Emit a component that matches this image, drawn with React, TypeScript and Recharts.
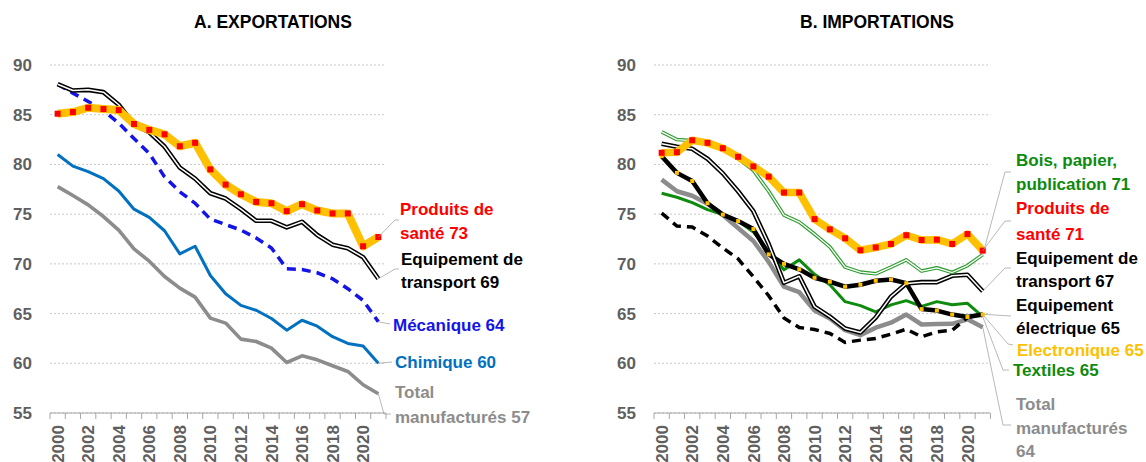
import React from 'react';
import { LineChart, Line, XAxis, YAxis, CartesianGrid } from 'recharts';

// ---------- DATA ----------
const years = [2000, 2001, 2002, 2003, 2004, 2005, 2006, 2007, 2008, 2009, 2010, 2011, 2012, 2013, 2014, 2015, 2016, 2017, 2018, 2019, 2020, 2021];
const yTicks = [55, 60, 65, 70, 75, 80, 85, 90];

// A. Exportations
const expSante = [85.1, 85.27, 85.7, 85.57, 85.47, 84.07, 83.47, 83.03, 81.83, 82.17, 79.5, 77.97, 77.0, 76.23, 76.1, 75.3, 76.0, 75.37, 75.07, 75.07, 71.77, 72.7];
const expTransport = [88.07, 87.43, 87.5, 87.27, 86.0, 84.0, 83.23, 81.8, 79.67, 78.57, 77.1, 76.57, 75.5, 74.33, 74.33, 73.67, 74.23, 72.9, 71.93, 71.57, 70.67, 68.5];
const expMecanique = [88.07, 87.17, 86.33, 85.4, 84.17, 82.6, 81.1, 78.75, 77.25, 76.1, 74.5, 73.95, 73.4, 72.6, 71.6, 69.5, 69.43, 69.1, 68.5, 67.5, 66.33, 64.17];
const expChimique = [81.0, 79.83, 79.27, 78.57, 77.33, 75.5, 74.67, 73.33, 71.0, 71.77, 68.83, 67.0, 65.83, 65.33, 64.5, 63.33, 64.33, 63.73, 62.67, 62.0, 61.73, 60.0];
const expTotal = [77.77, 76.87, 75.93, 74.76, 73.4, 71.5, 70.27, 68.73, 67.56, 66.65, 64.54, 64.04, 62.43, 62.19, 61.52, 60.08, 60.75, 60.35, 59.75, 59.18, 57.84, 56.93];

// B. Importations
const impBois = [83.27, 82.5, 82.4, 82.0, 81.5, 80.6, 79.4, 77.3, 74.9, 74.2, 73.0, 71.7, 69.67, 69.17, 69.0, 69.67, 70.4, 69.27, 69.6, 69.13, 69.83, 70.93];
const impSante = [81.17, 81.23, 82.43, 82.17, 81.63, 80.77, 79.8, 78.77, 77.17, 77.17, 74.5, 73.47, 72.57, 71.37, 71.65, 72.0, 72.88, 72.4, 72.43, 72.0, 73.0, 71.33];
const impTransport = [82.07, 81.77, 81.57, 80.57, 79.1, 77.3, 75.3, 72.0, 68.1, 68.75, 65.7, 64.7, 63.5, 63.1, 64.6, 66.7, 68.03, 68.16, 68.16, 68.8, 68.9, 67.25];
const impElecEquip = [75.1, 73.8, 73.7, 72.8, 71.6, 70.5, 68.7, 66.8, 64.55, 63.6, 63.4, 63.0, 62.1, 62.33, 62.5, 62.93, 63.43, 62.67, 63.17, 63.33, 64.6, 64.93];
const impElectronique = [80.83, 79.15, 78.33, 76.1, 74.95, 74.3, 73.5, 70.95, 70.0, 69.45, 68.6, 68.2, 67.7, 67.9, 68.3, 68.43, 68.06, 65.45, 65.3, 64.9, 64.66, 64.9];
const impTextiles = [77.1, 76.7, 76.15, 75.45, 74.95, 74.3, 73.2, 71.3, 69.4, 70.4, 68.95, 67.9, 66.2, 65.8, 65.17, 65.87, 66.3, 65.73, 66.2, 65.88, 66.03, 64.7];
const impTotal = [78.47, 77.3, 76.85, 76.05, 74.9, 73.6, 72.3, 70.2, 67.7, 67.15, 65.3, 64.5, 63.33, 62.83, 63.58, 64.08, 64.9, 63.9, 63.95, 63.97, 64.42, 63.63];

// Texts
const titleA = 'A. EXPORTATIONS';
const titleB = 'B. IMPORTATIONS';
const labExpSante = ['Produits de', 'santé 73'];
const labExpTransport = ['Equipement de', 'transport 69'];
const labExpMeca = ['Mécanique 64'];
const labExpChim = ['Chimique 60'];
const labExpTotal = ['Total', 'manufacturés 57'];
const labImpBois = ['Bois, papier,', 'publication 71'];
const labImpSante = ['Produits de', 'santé 71'];
const labImpTransport = ['Equipement de', 'transport 67'];
const labImpElec = ['Equipement', 'électrique 65'];
const labImpElectronique = ['Electronique 65'];
const labImpTextiles = ['Textiles 65'];
const labImpTotal = ['Total', 'manufacturés', '64'];

// ---------- STYLE ----------
const FONT = "'Liberation Sans', Arial, Helvetica, sans-serif";
const AXIS_GREY = '#a6a6a6';
const TICK_GREY = '#5f5f5f';
const ORANGE = '#FFC000';
const RED = '#FF0000';
const BLUE = '#1414E6';
const CHIM = '#0070C0';
const GREY = '#8c8c8c';
const GREEN = '#0E8A0E';
const GREEN2 = '#2E9B2E';

const expRows = years.map((y, i) => ({
  year: y,
  sante: expSante[i],
  transport: expTransport[i],
  meca: expMecanique[i],
  chim: expChimique[i],
  total: expTotal[i],
}));
const impRows = years.map((y, i) => ({
  year: y,
  bois: impBois[i],
  sante: impSante[i],
  transport: impTransport[i],
  elec: impElecEquip[i],
  electronique: impElectronique[i],
  textiles: impTextiles[i],
  total: impTotal[i],
}));

const lastIndex = years.length - 1;
const xTicks = [
  ...years.map((y) => y - 0.5),
  years[lastIndex] + 0.5,
  ...years.filter((y) => y % 2 === 0),
].sort((a, b) => a - b);

type LabelSpec = {
  lines: string[];
  color: string;
  tx: number;
  ty: number[];
  leader: number[][];
};

const YearTick = (props: any) => {
  const { x, y, payload } = props;
  const v = payload.value;
  if (Number.isInteger(v)) {
    if (v % 2 !== 0) return <g />;
    const ay = y + 12;
    return (
      <text
        x={x}
        y={ay}
        transform={`rotate(-90, ${x}, ${ay})`}
        textAnchor="end"
        dy="0.36em"
        fill={TICK_GREY}
        fontSize={17}
        fontWeight="bold"
        fontFamily={FONT}
      >
        {v}
      </text>
    );
  }
  return <line x1={x} y1={y} x2={x} y2={y + 6} stroke={AXIS_GREY} strokeWidth={1} />;
};

const makeDot = (marker: { size: number; fill: string } | null, label: LabelSpec | null) =>
  (props: any) => {
    const { cx, cy, index } = props;
    const parts: any[] = [];
    if (marker && cx != null && cy != null) {
      parts.push(
        <rect key="m" x={cx - marker.size / 2} y={cy - marker.size / 2} width={marker.size} height={marker.size} fill={marker.fill} />
      );
    }
    if (label && index === lastIndex && cx != null) {
      const pts = [[cx, cy], ...label.leader].map((p) => p.join(',')).join(' ');
      parts.push(
        <polyline key="l" points={pts} fill="none" stroke={AXIS_GREY} strokeWidth={0.8} />
      );
      label.lines.forEach((t, i) => {
        parts.push(
          <text
            key={`t${i}`}
            x={label.tx}
            y={label.ty[i]}
            dy="0.35em"
            fill={label.color}
            fontSize={17}
            fontWeight="bold"
            fontFamily={FONT}
          >
            {t}
          </text>
        );
      });
    }
    return <g key={`dot-${index}`}>{parts}</g>;
  };

const CHART_W = 573;
const CHART_H = 462;

const commonAxes = (id: string) => [
  <CartesianGrid key={`g${id}`} vertical={false} stroke="#c8c8c8" strokeDasharray="2 2" />,
  <XAxis
    key={`x${id}`}
    dataKey="year"
    type="number"
    domain={[years[0] - 0.5, years[lastIndex] + 0.5]}
    ticks={xTicks}
    interval={0}
    tickSize={0}
    tickMargin={0}
    height={49}
    axisLine={{ stroke: AXIS_GREY, strokeWidth: 1 }}
    tickLine={false}
    tick={<YearTick />}
  />,
  <YAxis
    key={`y${id}`}
    type="number"
    domain={[55, 90]}
    ticks={yTicks}
    interval={0}
    width={50}
    axisLine={false}
    tickLine={false}
    tickSize={0}
    tickMargin={18}
    tick={{ fill: TICK_GREY, fontSize: 17, fontWeight: 'bold', fontFamily: FONT }}
  />,
];

const noDot = (label: LabelSpec | null) => makeDot(null, label);

export default function App() {
  const titleStyle = (cx: number): React.CSSProperties => ({
    position: 'absolute',
    left: cx - 150,
    top: 11,
    width: 300,
    height: 22,
    lineHeight: '22px',
    textAlign: 'center',
    fontFamily: FONT,
    fontWeight: 'bold',
    fontSize: 17.5,
    color: '#000',
  });

  // label layouts (chart-local coordinates)
  const eSante: LabelSpec = { lines: labExpSante, color: RED, tx: 400, ty: [209, 233], leader: [[395, 220], [399, 220]] };
  const eTrans: LabelSpec = { lines: labExpTransport, color: '#000', tx: 401, ty: [259, 282], leader: [[395, 269], [399, 269]] };
  const eMeca: LabelSpec = { lines: labExpMeca, color: BLUE, tx: 393, ty: [325], leader: [[390, 324]] };
  const eChim: LabelSpec = { lines: labExpChim, color: CHIM, tx: 395, ty: [362], leader: [[392, 362]] };
  const eTot: LabelSpec = { lines: labExpTotal, color: GREY, tx: 395, ty: [392, 417], leader: [[384, 414], [391, 414]] };

  const iBois: LabelSpec = { lines: labImpBois, color: GREEN, tx: 443, ty: [160, 184], leader: [[432, 172], [438, 172]] };
  const iSante: LabelSpec = { lines: labImpSante, color: RED, tx: 443, ty: [208, 234], leader: [[432, 221], [438, 221]] };
  const iTrans: LabelSpec = { lines: labImpTransport, color: '#000', tx: 443, ty: [258, 281], leader: [[432, 268], [438, 268]] };
  const iElec: LabelSpec = { lines: labImpElec, color: '#000', tx: 443, ty: [305, 328], leader: [[438, 316]] };
  const iElectro: LabelSpec = { lines: labImpElectronique, color: ORANGE, tx: 444, ty: [350], leader: [[435, 344], [440, 345]] };
  const iText: LabelSpec = { lines: labImpTextiles, color: GREEN, tx: 440, ty: [370], leader: [[430, 370], [436, 370]] };
  const iTot: LabelSpec = { lines: labImpTotal, color: GREY, tx: 443, ty: [404, 428, 451], leader: [[430, 425], [438, 425]] };

  return (
    <div style={{ position: 'absolute', left: 0, top: 0, width: 1146, height: 462, background: '#fff', overflow: 'hidden' }}>
      <div style={titleStyle(273)}>{titleA}</div>
      <div style={titleStyle(877)}>{titleB}</div>

      <div style={{ position: 'absolute', left: 0, top: 0 }}>
        <LineChart width={CHART_W} height={CHART_H} data={expRows} margin={{ top: 65, right: 187, bottom: 0, left: 0 }}>
          {commonAxes('a')}
          <Line dataKey="total" stroke={GREY} strokeWidth={3.6} dot={noDot(eTot)} activeDot={false} isAnimationActive={false} strokeLinejoin="round" />
          <Line dataKey="chim" stroke={CHIM} strokeWidth={3} dot={noDot(eChim)} activeDot={false} isAnimationActive={false} strokeLinejoin="round" />
          <Line dataKey="meca" stroke={BLUE} strokeWidth={3.5} strokeDasharray="9 6" dot={noDot(eMeca)} activeDot={false} isAnimationActive={false} />
          <Line dataKey="transport" stroke="#000" strokeWidth={4.6} dot={noDot(eTrans)} activeDot={false} isAnimationActive={false} strokeLinejoin="round" />
          <Line dataKey="transport" stroke="#fff" strokeWidth={1.5} dot={false} activeDot={false} isAnimationActive={false} strokeLinejoin="round" />
          <Line dataKey="sante" stroke={ORANGE} strokeWidth={8} dot={makeDot({ size: 6, fill: RED }, eSante)} activeDot={false} isAnimationActive={false} strokeLinejoin="round" />
        </LineChart>
      </div>

      <div style={{ position: 'absolute', left: 573, top: 0 }}>
        <LineChart width={CHART_W} height={CHART_H} data={impRows} margin={{ top: 65, right: 155.6, bottom: 0, left: 31 }}>
          {commonAxes('b')}
          <Line dataKey="total" stroke={GREY} strokeWidth={4.5} dot={noDot(iTot)} activeDot={false} isAnimationActive={false} strokeLinejoin="round" />
          <Line dataKey="elec" stroke="#000" strokeWidth={3.5} strokeDasharray="9 6" dot={noDot(iElec)} activeDot={false} isAnimationActive={false} />
          <Line dataKey="textiles" stroke={GREEN} strokeWidth={3} dot={noDot(iText)} activeDot={false} isAnimationActive={false} strokeLinejoin="round" />
          <Line dataKey="electronique" stroke="#000" strokeWidth={4.5} dot={makeDot({ size: 4, fill: ORANGE }, iElectro)} activeDot={false} isAnimationActive={false} strokeLinejoin="round" />
          <Line dataKey="transport" stroke="#000" strokeWidth={4.6} dot={noDot(iTrans)} activeDot={false} isAnimationActive={false} strokeLinejoin="round" />
          <Line dataKey="transport" stroke="#fff" strokeWidth={1.5} dot={false} activeDot={false} isAnimationActive={false} strokeLinejoin="round" />
          <Line dataKey="bois" stroke={GREEN2} strokeWidth={3.6} dot={noDot(iBois)} activeDot={false} isAnimationActive={false} strokeLinejoin="round" />
          <Line dataKey="bois" stroke="#fff" strokeWidth={1.3} dot={false} activeDot={false} isAnimationActive={false} strokeLinejoin="round" />
          <Line dataKey="sante" stroke={ORANGE} strokeWidth={7.5} dot={makeDot({ size: 6, fill: RED }, iSante)} activeDot={false} isAnimationActive={false} strokeLinejoin="round" />
        </LineChart>
      </div>
    </div>
  );
}
